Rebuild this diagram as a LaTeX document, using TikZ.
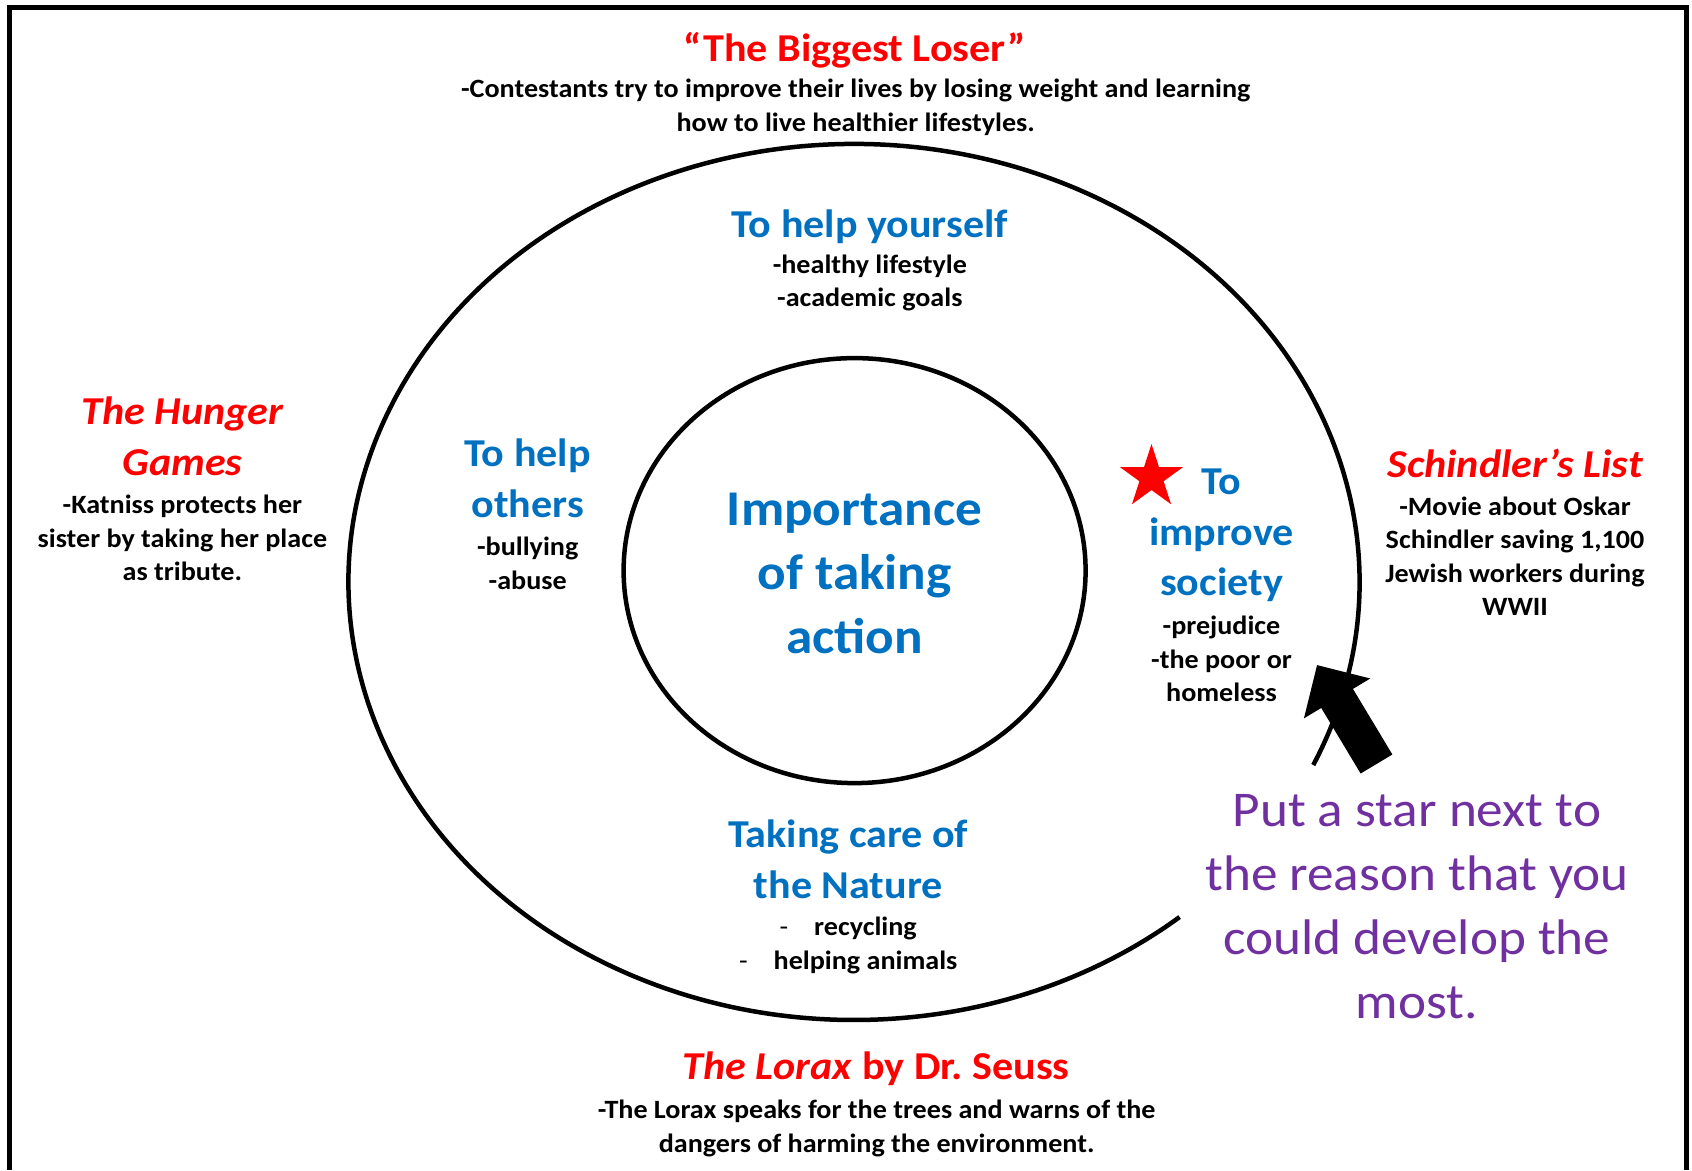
\documentclass[tikz,border=0pt]{standalone}
\usepackage{
	fontspec,			% Carlito Font
	xcolor				% Office Colours
}
\setmainfont{Carlito}[FakeStretch=1.065]
\frenchspacing
\usetikzlibrary{arrows.meta,shapes.geometric}
\definecolor{ppblue}{HTML}{0070C0}
\definecolor{ppred}{HTML}{FF0000}
\definecolor{pppurple}{HTML}{7030A0}

\begin{document}
\begin{tikzpicture}[x=1pt,y=-1pt,
		heading/.style={font=\bfseries\fontsize{39.5}{50.7}\selectfont, align=center},
		booktitle/.style={heading, text=ppred, font=\bfseries\itshape\fontsize{39.5}{50.7}\selectfont},
		detail/.style={font=\bfseries\fontsize{26.4}{33.5}\selectfont, align=center},
		core/.style={font=\bfseries\fontsize{50}{64}\selectfont, align=center, text=ppblue},
		note/.style={font=\fontsize{50}{64}\selectfont, align=center, text=pppurple}]
		\def\lw{4.5}
		\useasboundingbox (0,0) rectangle (1692,1170);
		\draw[line width=5] (9.8,1170) -- (9.8,7) -- (1686,7) -- (1686,1170);
		\draw[line width=\lw] (854.6,570.6) ellipse [x radius=231pt, y radius=212.5pt];
		\draw[line width=\lw] (854,582) ++(-24.7:505.5pt and 438pt)
			arc [start angle=-24.7, end angle=310.1, x radius=505.5pt, y radius=438pt];
		\node[heading, text=ppred] (bigloser) at (854.6,50) {“The Biggest Loser”};
		\node[detail] (loserdesc) at (855.7,107.2) {-Contestants try to improve their lives by losing weight and learning\\how to live healthier lifestyles.};
		\node[heading, text=ppblue] (helpself) at (869.8,226.4) {To help yourself};
		\node[detail] (selflist) at (869.8,283.1) {-healthy lifestyle\\-academic goals};
		\node[heading, text=ppblue] (helpothers) at (527.7,478.5) {To help\\others};
		\node[detail] (otherslist) at (527.7,563.3) {-bullying\\-abuse};
		\node[core] (importance) at (854.6,573.5) {Importance\\of taking\\action};
		\node[heading, text=ppblue] (society) at (1221.5,535.5) {To\\improve\\society};
		\node[detail] (societylist) at (1221.5,659) {-prejudice\\-the poor or\\homeless};
		\node[star, star points=5, star point ratio=2.618, fill=ppred, inner sep=0, minimum size=66.6pt] (mark) at (1151.5,477.3) {};
		\node[heading, text=ppblue] (nature) at (848.2,859.5) {Taking care of\\the Nature};
		\node[detail] (naturelist) at (848.2,945.7) {{\mdseries -}\hspace{26pt}recycling\\{\mdseries -}\hspace{26pt}helping animals};
		\node[booktitle] (hunger) at (182.4,436.5) {The Hunger\\Games};
		\node[detail] (hungerdesc) at (182.4,538.2) {-Katniss protects her\\sister by taking her place\\as tribute.};
		\node[booktitle] (schindler) at (1515,463) {Schindler’s List};
		\node[detail] (schindlerdesc) at (1515,556.3) {-Movie about Oskar\\Schindler saving 1,100\\Jewish workers during\\WWII};
		\node[heading, text=ppred] (lorax) at (876.2,1069.2) {\textit{The Lorax} by Dr.\ Seuss};
		\node[detail] (loraxdesc) at (876.7,1128.5) {-The Lorax speaks for the trees and warns of the\\dangers of harming the environment.};
		\node[note] (starnote) at (1416.9,906.4) {Put a star next to\\the reason that you\\could develop the\\most.};
		\coordinate (pointer tail) at (1376.5,764);
		\coordinate (pointer tip) at (1317,665);
		\draw[line width=37, -{Triangle[length=39pt,width=75pt]}] (pointer tail) -- (pointer tip);
	\end{tikzpicture}
\end{document}
